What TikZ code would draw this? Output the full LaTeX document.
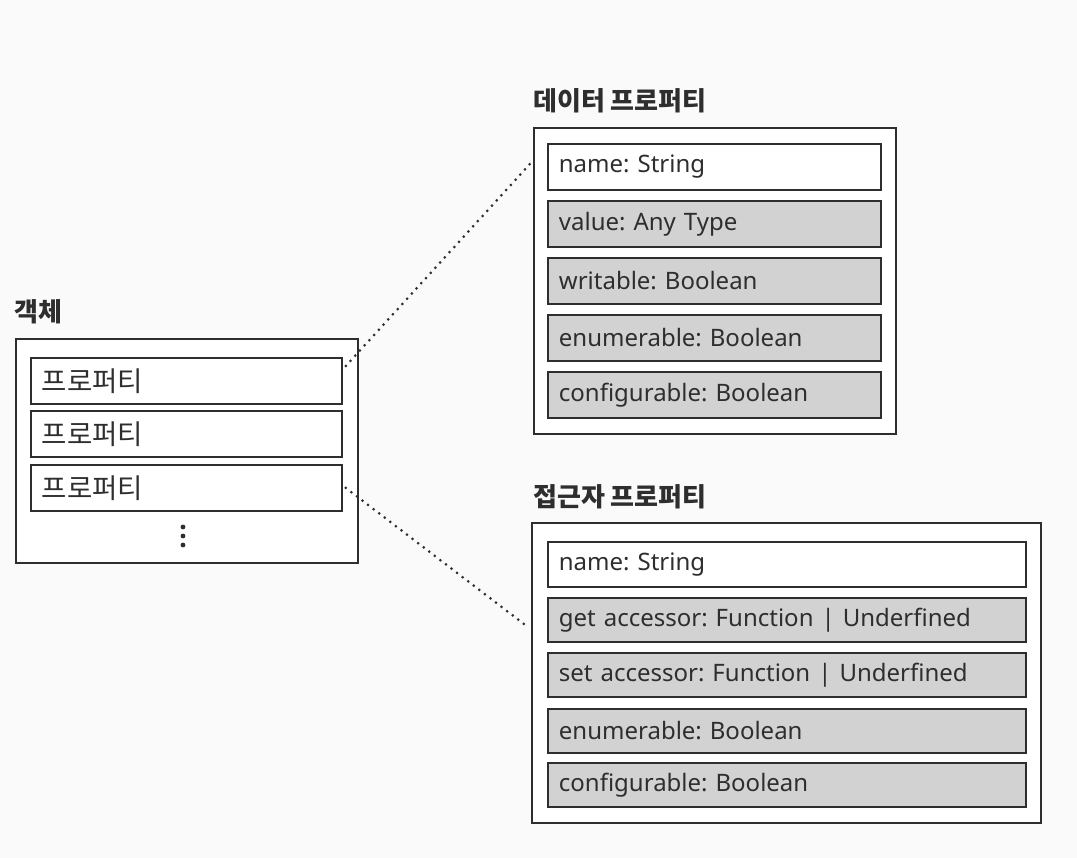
\documentclass[tikz,border=0pt]{standalone}
\usepackage{fontspec}
\setmainfont{Noto Sans}
\newfontfamily\kr{Noto Sans CJK KR}
\usetikzlibrary{calc}
\definecolor{boxgray}{HTML}{D2D2D2}
\definecolor{ink}{HTML}{2E2E2E}
\frenchspacing
\begin{document}
\begin{tikzpicture}[x=1pt,y=-1pt,
  outerbox/.style={draw=ink, line width=1.8pt, fill=white, anchor=north west, inner sep=0pt},
  ibox/.style={draw=ink, line width=1.8pt, anchor=north west, inner xsep=11pt, inner ysep=0pt,
     text width=#1, align=left, minimum height=46, font=\frenchspacing\fontsize{24}{26}\selectfont, text=ink},
  gbox/.style={ibox=#1, fill=boxgray},
  wbox/.style={ibox=#1, fill=white},
  kbox/.style={ibox=#1, fill=white, font=\kr\fontsize{27.5}{29}\selectfont},
  title/.style={anchor=west, font=\kr\bfseries\fontsize{26}{28}\selectfont, text=ink, inner sep=0pt},
  conn/.style={draw=ink, line width=3pt, line cap=round, dash pattern=on 0pt off 7pt}
]
\useasboundingbox[fill=gray!4] (0,0) rectangle (1077,858);

% object
\node[title] (objt) at (14,312) {객체};
\node[outerbox, minimum width=342, minimum height=224] (obj) at (15,338) {};
\node[kbox=289] (p1) at (30,357) {프로퍼티};
\node[kbox=289] (p2) at (30,410) {프로퍼티};
\node[kbox=289] (p3) at (30,464) {프로퍼티};
\foreach \yy in {527,536,545} \fill[ink] (183,\yy) circle (2.4);

% data property
\node[title] (dt) at (533,101) {데이터 프로퍼티};
\node[outerbox, minimum width=362, minimum height=306] (dout) at (533,127) {};
\node[wbox=311] (dname) at (547,143) {name: String};
\node[gbox=311] (dval) at (547,200) {value: Any Type};
\node[gbox=311] (dwri) at (547,257) {writable: Boolean};
\node[gbox=311] (denu) at (547,314) {enumerable: Boolean};
\node[gbox=311] (dcon) at (547,371) {configurable: Boolean};

% accessor property
\node[title] (at) at (533,497) {접근자 프로퍼티};
\node[outerbox, minimum width=509, minimum height=300] (aout) at (531,522) {};
\node[wbox=456, minimum height=45] (aname) at (547,541) {name: String};
\node[gbox=456, minimum height=44] (aget) at (547,597) {get accessor: Function | Underfined};
\node[gbox=456, minimum height=44] (aset) at (547,652) {set accessor: Function | Underfined};
\node[gbox=456, minimum height=44] (aenu) at (547,708) {enumerable: Boolean};
\node[gbox=456, minimum height=44] (acon) at (547,762) {configurable: Boolean};

% connectors
\draw[conn] ($(p1.north east)+(3,9)$) -- ($(dout.west |- dname.west)+(-3,-3)$);
\draw[conn] ($(p3.east)+(3,0)$) -- ($(aout.west |- aget.west)+(-2,8)$);
\end{tikzpicture}
\end{document}
